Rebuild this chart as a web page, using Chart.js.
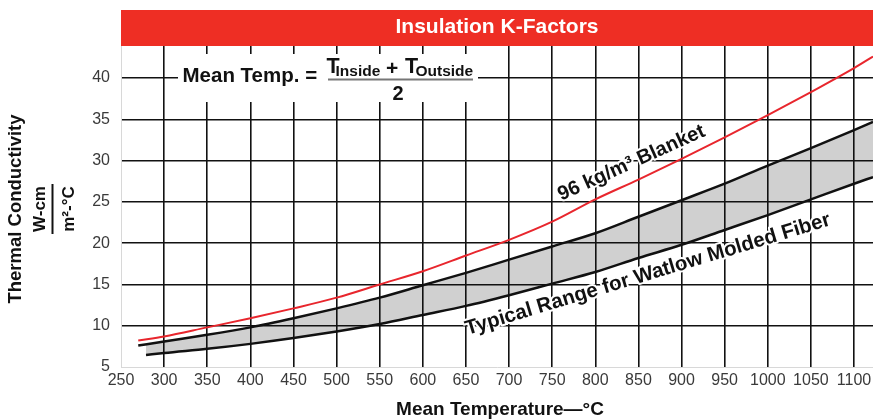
<!DOCTYPE html>
<html>
<head>
<meta charset="utf-8">
<script src="https://cdn.jsdelivr.net/npm/chart.js@4/dist/chart.umd.min.js"></script>
<style>
html,body{margin:0;padding:0;background:#fff;}
#wrap{width:873px;height:419px;position:relative;}
</style>
</head>
<body>
<div id="wrap"><canvas id="c" width="873" height="419"></canvas></div>
<script>
// ---- data ----
const chartTitle = 'Insulation K-Factors';
const xAxisTitle = 'Mean Temperature\u2014\u00B0C';
const yAxisTitle = 'Thermal Conductivity';
const yUnitTop = 'W-cm';
const yUnitBottom = 'm\u00B2-\u00B0C';

const tempTicks = [250,300,350,400,450,500,550,600,650,700,750,800,850,900,950,1000,1050,1100];
const kTicks = [5,10,15,20,25,30,35,40];

const blanketLabel = '96 kg/m\u00B3 Blanket';
const blanketTemps = [270,300,350,400,450,500,550,600,650,700,750,800,850,900,950,1000,1050,1100,1122];
const blanketK     = [8.2,8.7,9.8,10.9,12.1,13.4,15.0,16.6,18.5,20.4,22.6,25.3,27.7,30.2,32.8,35.5,38.3,41.2,42.6];

const rangeLabel = 'Typical Range for Watlow Molded Fiber';
const upperTemps = [270,300,350,400,450,500,550,600,650,700,750,800,850,900,950,1000,1050,1100,1122];
const upperK     = [7.6,8.1,8.9,9.8,10.9,12.1,13.4,14.9,16.4,18.0,19.6,21.2,23.2,25.2,27.2,29.4,31.5,33.7,34.7];
const lowerTemps = [279,300,350,400,450,500,550,600,650,700,750,800,850,900,950,1000,1050,1100,1122];
const lowerK     = [6.45,6.7,7.2,7.8,8.5,9.3,10.2,11.3,12.4,13.7,15.1,16.5,18.2,19.8,21.6,23.4,25.3,27.2,28.0];

// label anchor points (data coordinates) and angles
const blanketLabelAt = {x: 842, y: 29.7, angle: -24.3};
const rangeLabelAt   = {x: 861, y: 16.2, angle: -16.8};

const FONT = '"Liberation Sans", Arial, Helvetica, sans-serif';
const toPts = (xs, ys) => xs.map((x, i) => ({x: x, y: ys[i]}));

const decor = {
  id: 'decor',
  afterDraw(chart) {
    const ctx = chart.ctx;
    const a = chart.chartArea;
    const xs = chart.scales.x, ys = chart.scales.y;
    ctx.save();
    // red title banner
    ctx.fillStyle = '#ee2e24';
    ctx.fillRect(a.left, 10, a.right - a.left, a.top + 1 - 10);
    ctx.fillStyle = '#ffffff';
    ctx.font = 'bold 21px ' + FONT;
    ctx.textAlign = 'center';
    ctx.textBaseline = 'alphabetic';
    ctx.fillText(chartTitle, (a.left + a.right) / 2, 33);

    // formula box
    ctx.fillStyle = '#ffffff';
    ctx.fillRect(178, 54, 300, 48);
    ctx.fillStyle = '#111';
    ctx.textAlign = 'left';
    ctx.font = 'bold 20.5px ' + FONT;
    ctx.fillText('Mean Temp. =', 182.5, 81.5);
    ctx.font = 'bold 21.5px ' + FONT;
    ctx.fillText('T', 326.5, 72.5);
    ctx.font = 'bold 15.5px ' + FONT;
    ctx.fillText('Inside', 335.5, 75.5);
    ctx.font = 'bold 21px ' + FONT;
    ctx.fillText('+', 386, 75);
    ctx.font = 'bold 21.5px ' + FONT;
    ctx.fillText('T', 405, 72.5);
    ctx.font = 'bold 15.5px ' + FONT;
    ctx.fillText('Outside', 415.5, 75.5);
    ctx.strokeStyle = '#777';
    ctx.lineWidth = 2;
    ctx.beginPath(); ctx.moveTo(328, 79.5); ctx.lineTo(473, 79.5); ctx.stroke();
    ctx.font = 'bold 20px ' + FONT;
    ctx.textAlign = 'center';
    ctx.fillText('2', 398, 100);

    // curve labels
    const drawRot = (txt, at, size) => {
      ctx.save();
      ctx.translate(xs.getPixelForValue(at.x), ys.getPixelForValue(at.y));
      ctx.rotate(at.angle * Math.PI / 180);
      ctx.font = 'bold ' + size + 'px ' + FONT;
      ctx.textAlign = 'center';
      ctx.textBaseline = 'middle';
      ctx.lineJoin = 'round';
      ctx.strokeStyle = '#fff';
      ctx.lineWidth = 4;
      ctx.strokeText(txt, 0, 0);
      ctx.fillStyle = '#111';
      ctx.fillText(txt, 0, 0);
      ctx.restore();
    };
    drawRot(blanketLabel, blanketLabelAt, 20);
    drawRot(rangeLabel, rangeLabelAt, 20.5);

    // x axis title
    ctx.fillStyle = '#111';
    ctx.textAlign = 'center';
    ctx.textBaseline = 'alphabetic';
    ctx.font = 'bold 19px ' + FONT;
    ctx.fillText(xAxisTitle, 500, 415);

    // y axis title + unit fraction
    const cy = 209;
    ctx.save();
    ctx.translate(21, cy);
    ctx.rotate(-Math.PI / 2);
    ctx.font = 'bold 18.5px ' + FONT;
    ctx.fillText(yAxisTitle, 0, 0);
    ctx.restore();
    ctx.save();
    ctx.translate(45, cy);
    ctx.rotate(-Math.PI / 2);
    ctx.font = 'bold 17px ' + FONT;
    ctx.fillText(yUnitTop, 0, 0);
    ctx.restore();
    ctx.save();
    ctx.translate(74, cy);
    ctx.rotate(-Math.PI / 2);
    ctx.font = 'bold 17px ' + FONT;
    ctx.fillText(yUnitBottom, 0, 0);
    ctx.restore();
    ctx.strokeStyle = '#111';
    ctx.lineWidth = 2;
    ctx.beginPath(); ctx.moveTo(52.5, cy - 25); ctx.lineTo(52.5, cy + 25); ctx.stroke();
    ctx.restore();
  }
};

new Chart(document.getElementById('c'), {
  type: 'line',
  data: {
    datasets: [
      {
        label: blanketLabel,
        data: toPts(blanketTemps, blanketK),
        borderColor: '#e8262d',
        borderWidth: 2,
        pointRadius: 0,
        cubicInterpolationMode: 'monotone',
        fill: false
      },
      {
        label: 'upper',
        data: toPts(upperTemps, upperK),
        borderColor: '#111',
        borderWidth: 2.5,
        pointRadius: 0,
        cubicInterpolationMode: 'monotone',
        fill: '+1',
        backgroundColor: '#d0d0d0'
      },
      {
        label: 'lower',
        data: toPts(lowerTemps, lowerK),
        borderColor: '#111',
        borderWidth: 2.5,
        pointRadius: 0,
        cubicInterpolationMode: 'monotone',
        fill: false
      }
    ]
  },
  options: {
    responsive: false,
    devicePixelRatio: 1,
    animation: false,
    layout: {padding: {left: 0, right: 0, top: 45, bottom: 0}},
    plugins: {
      legend: {display: false},
      tooltip: {enabled: false},
      filler: {drawTime: 'beforeDraw'}
    },
    scales: {
      x: {
        type: 'linear',
        min: 250,
        max: 1122,
        afterBuildTicks: s => { s.ticks = tempTicks.map(v => ({value: v})); },
        afterFit: s => { s.height = 52; s.paddingLeft = 0; s.paddingRight = 0; },
        grid: {
          color: c => (c.tick && c.tick.value === 250) ? 'rgba(0,0,0,0)' : '#111',
          lineWidth: 1.6,
          drawTicks: false
        },
        border: {color: '#d8d8d8', width: 1},
        ticks: {
          font: {family: FONT, size: 16},
          color: '#3a3a3a',
          padding: 4,
          maxRotation: 0,
          autoSkip: false,
          callback: v => String(v)
        }
      },
      y: {
        type: 'linear',
        min: 5,
        max: 44,
        afterBuildTicks: s => { s.ticks = kTicks.map(v => ({value: v})); },
        afterFit: s => { s.width = 121; s.paddingTop = 0; s.paddingBottom = 0; },
        grid: {
          color: c => (c.tick && c.tick.value === 5) ? 'rgba(0,0,0,0)' : '#111',
          lineWidth: 1.6,
          drawTicks: false
        },
        border: {color: '#d8d8d8', width: 1},
        ticks: {
          font: {family: FONT, size: 16},
          color: '#3a3a3a',
          padding: 11,
          autoSkip: false,
          callback: v => String(v)
        }
      }
    }
  },
  plugins: [decor]
});
</script>
</body>
</html>
